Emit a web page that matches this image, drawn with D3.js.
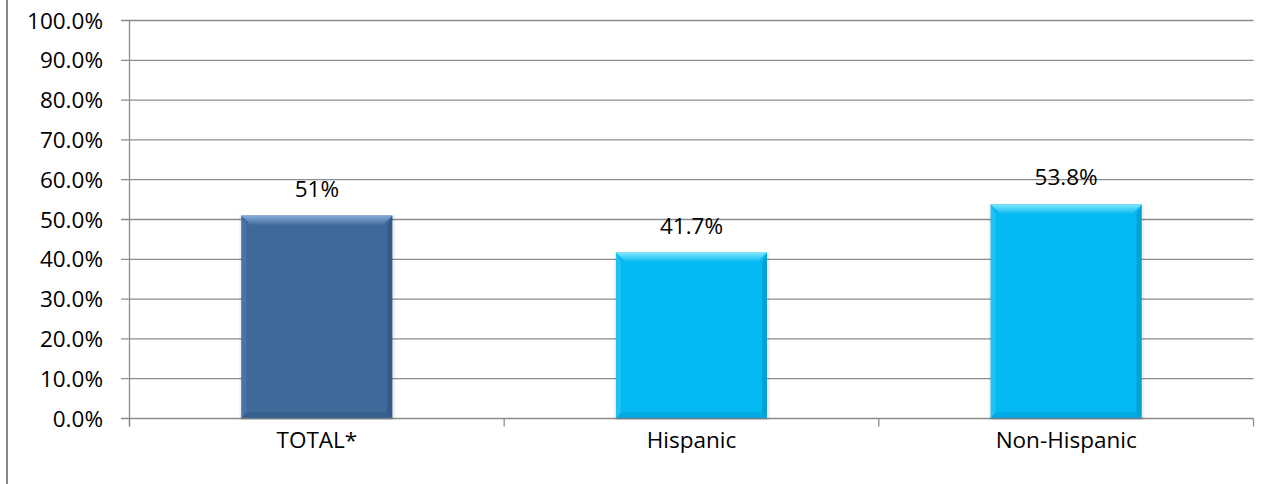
<!DOCTYPE html>
<html>
<head>
<meta charset="utf-8">
<script src="https://cdnjs.cloudflare.com/ajax/libs/d3/7.8.5/d3.min.js"></script>
<style>
  body { margin: 0; background: #fff; }
  svg { display: block; }
  text { font-family: "Open Sans", "Noto Sans", sans-serif; fill: #000; }
</style>
</head>
<body>
<svg width="1276" height="484"></svg>
<script>
const categories = ['TOTAL*', 'Hispanic', 'Non-Hispanic'];
const values = [0.51, 0.417, 0.538];
const valueLabels = ['51%', '41.7%', '53.8%'];
const yTicks = [0, 0.1, 0.2, 0.3, 0.4, 0.5, 0.6, 0.7, 0.8, 0.9, 1.0];

const palettes = [
    {id: 'dk', base: '#3e6999', light: '#86acdb', side: '#5580b2', dark: '#2a4c74'},
    {id: 'lt', base: '#04b9f2', light: '#7fe6fd', side: '#3ccaf6', dark: '#0389b8'}
];
const barPalette = [0, 1, 1];

const svg = d3.select('svg');
const defs = svg.append('defs');
palettes.forEach(p => {
    const grad = defs.append('linearGradient')
        .attr('id', 'top-' + p.id)
        .attr('x1', 0).attr('y1', 0).attr('x2', 0).attr('y2', 1);
    grad.append('stop').attr('offset', '0%').attr('stop-color', p.light);
    grad.append('stop').attr('offset', '100%').attr('stop-color', p.base);
});

// chart frame edge on the left
svg.append('line')
    .attr('x1', 7).attr('x2', 7)
    .attr('y1', 0).attr('y2', 484)
    .attr('stroke', '#888').attr('stroke-width', 2);

const xScale = d3.scaleBand()
    .domain(categories)
    .range([129.5, 1253.5])
    .padding(0);

const yScale = d3.scaleLinear()
    .domain([0, 1])
    .range([418.5, 20.5]);

// gridlines
svg.append('g')
    .selectAll('line')
    .data(yTicks)
    .enter()
    .append('line')
    .attr('x1', 121)
    .attr('x2', 1253.5)
    .attr('y1', d => yScale(d))
    .attr('y2', d => yScale(d))
    .attr('stroke', '#8c8c8c')
    .attr('stroke-width', 1.3);

// y labels
svg.append('g')
    .selectAll('text')
    .data(yTicks)
    .enter()
    .append('text')
    .attr('x', 103)
    .attr('y', d => yScale(d))
    .attr('dy', '0.36em')
    .attr('text-anchor', 'end')
    .style('font-size', '22.5px')
    .text(d => d3.format('.1%')(d));

// y axis line
svg.append('line')
    .attr('x1', xScale.range()[0]).attr('x2', xScale.range()[0])
    .attr('y1', yScale(1)).attr('y2', yScale(0) + 8)
    .attr('stroke', '#8c8c8c').attr('stroke-width', 1.3);

// x tick marks at category boundaries
const boundaries = categories.map(c => xScale(c)).concat([xScale.range()[1]]);
svg.append('g')
    .selectAll('line')
    .data(boundaries)
    .enter()
    .append('line')
    .attr('x1', d => d).attr('x2', d => d)
    .attr('y1', yScale(0)).attr('y2', yScale(0) + 8)
    .attr('stroke', '#8c8c8c').attr('stroke-width', 1.3);

// bars with bevel
const barW = xScale.bandwidth() * 0.403;
const bev = 10;

const bars = svg.append('g')
    .selectAll('g')
    .data(categories)
    .enter()
    .append('g');

bars.each(function (c, i) {
    const g = d3.select(this);
    const p = palettes[barPalette[i]];
    const x0 = xScale(c) + (xScale.bandwidth() - barW) / 2;
    const x1 = x0 + barW;
    const y0 = yScale(values[i]);
    const y1 = yScale(0);

    // soft shadow
    g.append('rect')
        .attr('x', x0 - 2).attr('y', y0)
        .attr('width', barW + 5).attr('height', y1 - y0 + 1)
        .attr('fill', '#000').attr('opacity', 0.06);

    g.append('rect')
        .attr('x', x0).attr('y', y0)
        .attr('width', barW).attr('height', y1 - y0)
        .attr('fill', p.base);

    const poly = pts => pts.map(q => q.join(',')).join(' ');
    // top
    g.append('polygon')
        .attr('points', poly([[x0, y0], [x1, y0], [x1 - bev, y0 + bev], [x0 + bev, y0 + bev]]))
        .attr('fill', 'url(#top-' + p.id + ')');
    // left
    g.append('polygon')
        .attr('points', poly([[x0, y0], [x0 + bev * 0.5, y0 + bev], [x0 + bev * 0.5, y1 - bev * 0.6], [x0, y1]]))
        .attr('fill', p.side).attr('opacity', 0.5);
    // right
    g.append('polygon')
        .attr('points', poly([[x1, y0], [x1 - bev * 0.5, y0 + bev], [x1 - bev * 0.5, y1 - bev * 0.6], [x1, y1]]))
        .attr('fill', p.dark).attr('opacity', 0.5);
    // bottom
    g.append('polygon')
        .attr('points', poly([[x0, y1], [x0 + bev * 0.5, y1 - bev * 0.6], [x1 - bev * 0.5, y1 - bev * 0.6], [x1, y1]]))
        .attr('fill', p.dark).attr('opacity', 0.3);
    g.append('line')
        .attr('x1', x0).attr('x2', x1)
        .attr('y1', y1).attr('y2', y1)
        .attr('stroke', '#6d7f8c').attr('stroke-width', 1.5);

    g.append('text')
        .attr('x', x0 + barW / 2)
        .attr('y', y0 - 19)
        .attr('text-anchor', 'middle')
        .style('font-size', '22.5px')
        .text(valueLabels[i]);
});

// x labels
svg.append('g')
    .selectAll('text')
    .data(categories)
    .enter()
    .append('text')
    .attr('x', d => xScale(d) + xScale.bandwidth() / 2)
    .attr('y', 448)
    .attr('text-anchor', 'middle')
    .style('font-size', '22.5px')
    .text(d => d);
</script>
</body>
</html>
